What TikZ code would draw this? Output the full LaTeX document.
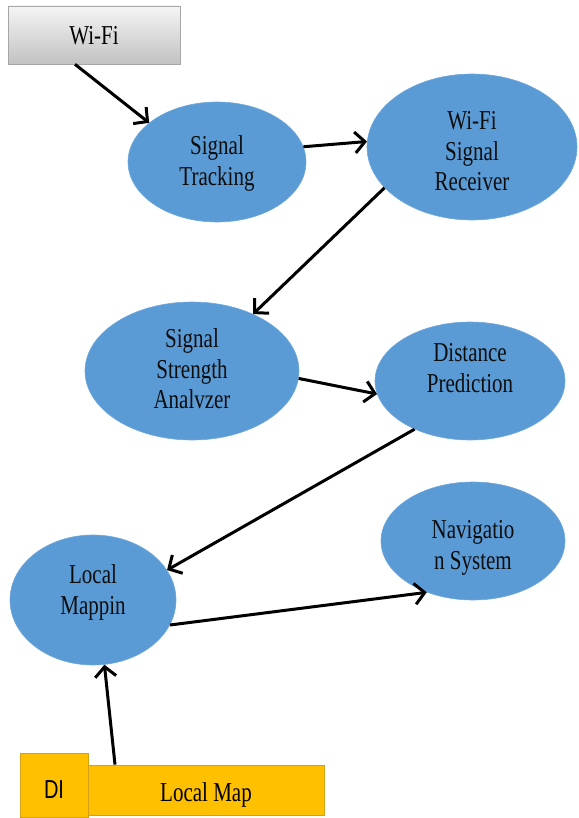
\documentclass[tikz,border=0pt]{standalone}
\usepackage{fontspec}
\usepackage{graphicx}
\setmainfont{Liberation Serif}
\newfontfamily\sansf{Liberation Sans}
\usetikzlibrary{shapes.geometric,arrows.meta}
\definecolor{nodeblue}{HTML}{5B9BD5}
\definecolor{nodeedge}{HTML}{6FA8DC}
\definecolor{boxyellow}{HTML}{FFC000}
\definecolor{boxedge}{HTML}{D4A017}
\newsavebox{\talltbox}
\newcommand{\tallt}[2][0pt]{\sbox{\talltbox}{\scalebox{1}[1.3]{\begin{tabular}{@{}c@{}}#2\end{tabular}}}\raisebox{-#1}[\ht\talltbox][\dp\talltbox]{\usebox{\talltbox}}}
\tikzset{
  proc/.style={ellipse, fill=nodeblue, draw=nodeedge, line width=0.6pt, inner sep=0pt,
    font=\fontsize{21}{23.5}\selectfont, text=black!95},
  ybox/.style={rectangle, fill=boxyellow, draw=boxedge, line width=0.8pt, inner sep=0pt},
  conn/.style={line width=3pt, -{Straight Barb[length=10pt,width=21pt,line width=3pt]}},
}
\begin{document}
\begin{tikzpicture}[x=1pt,y=-1pt]
\useasboundingbox (0,0) rectangle (578,818);
% Wi-Fi box
\node[rectangle, draw=black!35, line width=0.6pt, top color=black!4, bottom color=black!24,
      minimum width=172pt, minimum height=58pt, inner sep=0pt,
      font=\fontsize{21}{25}\selectfont] (wifi) at (94,35) {\tallt[3pt]{Wi-Fi}};
% ellipses
\node[proc, minimum width=178pt, minimum height=120pt] (track) at (217,162) {\tallt[2pt]{Signal\\Tracking}};
\node[proc, minimum width=210pt, minimum height=146pt] (recv) at (472,147) {\tallt[7pt]{Wi-Fi\\Signal\\Receiver}};
\node[proc, minimum width=214pt, minimum height=138pt] (ssa) at (192,371) {\tallt[1pt]{Signal\\Strength\\Analvzer}};
\node[proc, minimum width=190pt, minimum height=118pt] (dist) at (470,381) {\tallt[-10pt]{Distance\\Prediction}};
\node[proc, minimum width=184pt, minimum height=118pt] (nav) at (473,541) {\tallt[7pt]{Navigatio\\n System}};
\node[proc, minimum width=166pt, minimum height=130pt] (lmap) at (93,600) {\tallt[-7pt]{Local\\Mappin}};
% yellow boxes
\node[ybox, minimum width=237pt, minimum height=50pt, font=\fontsize{21}{25}\selectfont] (lmbox) at (206,790) {\tallt[5pt]{Local Map}};
\node[ybox, minimum width=68pt, minimum height=64pt, font=\sansf\fontsize{20}{24}\selectfont] (d1) at (54,785) {\tallt[7pt]{DI}};
% connectors
\draw[conn] (wifi.south -| 75,0) -- (track.150);
\draw[conn] (track.10) -- (recv.177);
\draw[conn] (recv.205) -- (ssa.43);
\draw[conn] (ssa.356) -- (dist.188);
\draw[conn] (dist.221) -- (lmap.22);
\draw[conn] (lmap.342) -- (nav.228);
\draw[conn] (lmbox.north -| 115,0) -- (lmap.280);
\end{tikzpicture}
\end{document}
